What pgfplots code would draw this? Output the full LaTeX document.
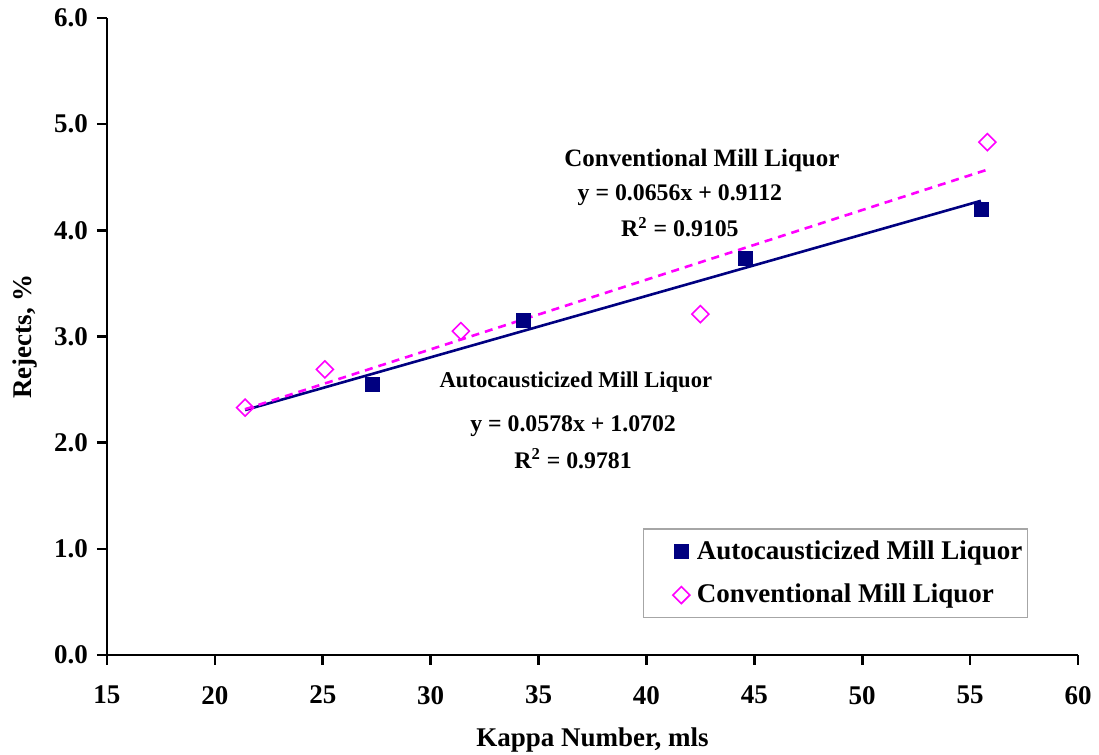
\documentclass[border=0pt]{standalone}
\usepackage{pgfplots}
\pgfplotsset{compat=1.18}
\usepackage{fontspec}
\setmainfont{Liberation Serif}
\definecolor{navyc}{RGB}{0,0,128}
\definecolor{magc}{RGB}{255,0,255}
\begin{document}
\begin{tikzpicture}[x=0.5pt,y=0.5pt]
\begin{axis}[
  at={(0,0)}, anchor=south west,
  scale only axis,
  width=485.5pt, height=318.5pt,
  xmin=15, xmax=60, ymin=0, ymax=6,
  xtick={15,20,...,60},
  ytick={0,1,...,6},
  axis lines*=left,
  axis line style={line width=1.3pt, -},
  tick style={line width=1.3pt, black},
  tick align=outside,
  major tick length=5pt,
  /pgf/number format/assume math mode=true,
  ticklabel style={font=\fontsize{13.5}{15}\selectfont\bfseries},
  xticklabel style={yshift=-7pt},
  yticklabel style={xshift=-1pt, /pgf/number format/.cd, fixed, fixed zerofill, precision=1},
  xlabel={Kappa Number, mls},
  ylabel={Rejects, \%},
  label style={font=\fontsize{13.5}{15}\selectfont\bfseries},
  xlabel style={yshift=-5pt},
  ylabel style={yshift=1.5pt},
  clip=false,
  legend style={at={(0.9485,0.058)}, anchor=south east, draw=gray!70, line width=0.6pt,
    font=\fontsize{13.5}{15}\selectfont\bfseries, inner xsep=2.5pt, inner ysep=3.75pt, row sep=7pt,
    nodes={inner xsep=0pt}},
  legend cell align=left,
  legend image code/.code={\path (-16pt,0pt) (7.5pt,0pt); \draw[#1,/tikz/only marks] plot coordinates {(0pt,0pt)};},
]
\addplot[only marks, mark=square*, mark size=3.5pt, color=navyc] coordinates {
  (27.3,2.55) (34.3,3.15) (44.6,3.74) (55.5,4.20)
};
\addlegendentry{Autocausticized Mill Liquor}
\addplot[only marks, mark=square, mark size=3pt, color=magc, mark options={rotate=45, line width=0.8pt}] coordinates {
  (21.4,2.33) (25.1,2.69) (31.4,3.05) (42.5,3.21) (55.8,4.83)
};
\addlegendentry{Conventional Mill Liquor}
\addplot[navyc, line width=1.3pt, forget plot] coordinates {(21.4,2.3071) (55.5,4.2781)};
\addplot[magc, line width=1.3pt, dash pattern=on 4pt off 3pt, forget plot] coordinates {(21.4,2.3150) (55.8,4.5717)};
\node[font=\fontsize{12.5}{14}\selectfont\bfseries] at (axis cs:42.57,4.66) {Conventional Mill Liquor};
\node[font=\fontsize{11.9}{14}\selectfont\bfseries] at (axis cs:41.55,4.33) {y = 0.0656x + 0.9112};
\node[font=\fontsize{11.9}{14}\selectfont\bfseries] at (axis cs:41.55,4.03) {R$^{\mathbf{2}}$ = 0.9105};
\node[font=\fontsize{11.3}{14}\selectfont\bfseries] at (axis cs:36.73,2.57) {Autocausticized Mill Liquor};
\node[font=\fontsize{11.9}{14}\selectfont\bfseries] at (axis cs:36.6,2.16) {y = 0.0578x + 1.0702};
\node[font=\fontsize{11.9}{14}\selectfont\bfseries] at (axis cs:36.6,1.85) {R$^{\mathbf{2}}$ = 0.9781};
\end{axis}
\pgfresetboundingbox
\path[use as bounding box] (-107,-100) rectangle (992,655);
\end{tikzpicture}
\end{document}
